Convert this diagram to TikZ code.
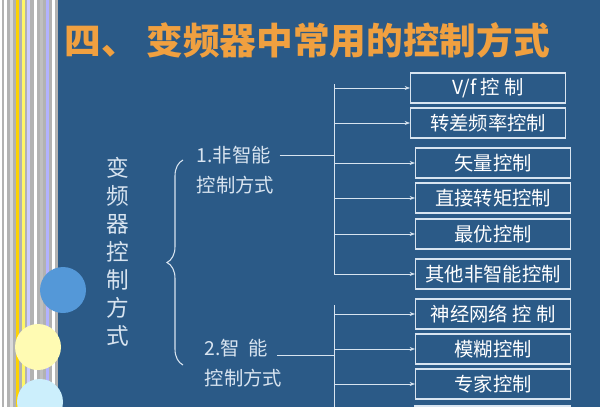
\documentclass[tikz,border=0pt]{standalone}
\usepackage{fontspec}
\newfontfamily\cjk{Noto Sans CJK SC}
\usetikzlibrary{arrows.meta}
\usetikzlibrary{decorations.pathreplacing}
\definecolor{slideblue}{HTML}{2B5A87}
\definecolor{titleorange}{HTML}{F0A040}
\definecolor{linegray}{HTML}{D8E4F0}
\tikzset{
    item/.style = {draw=linegray, thick, minimum width=155\px, minimum height=30\px, text=white, font=\cjk\fontsize{14.5}{16}\selectfont, inner sep=0pt},
    label/.style = {text=linegray, font=\cjk\fontsize{14.5}{16}\selectfont, anchor=west},
    feed/.style = {draw=linegray, -{Stealth[length=4pt]}},
}
\newlength{\px}\setlength{\px}{0.75pt}
\begin{document}
\begin{tikzpicture}[x=0.75pt, y=-0.75pt]
    \useasboundingbox (0,0) rectangle (600,407);
    \fill[slideblue] (0,0) rectangle (600,407);

    % left strip
    \fill[gray!60] (0,0) rectangle (58,407);
    \foreach \xa/\col in {4/white, 10/gray!30, 16/yellow!70!orange, 22/yellow!60, 27/blue!20, 34/white, 40/gray!50, 46/blue!30, 52/white}
        \fill[\col] (\xa,0) rectangle ++(3,407);
    \draw[white, thick] (1,0) -- (1,407);
    \fill[cyan!60!blue!70] (63,290) circle (23);
    \fill[yellow!30!white] (38,347) circle (23);
    \fill[cyan!20!white] (40,402) circle (23);

    % title
    \node[text=titleorange, font=\cjk\bfseries\fontsize{27.5}{30}\selectfont, anchor=west] (title) at (60,40) {四、\ 变频器中常用的控制方式};

    % root
    \node[text=linegray, font=\cjk\fontsize{17}{18}\selectfont, align=center] (root) at (118,252) {变\\[3pt]频\\[3pt]器\\[3pt]控\\[3pt]制\\[3pt]方\\[3pt]式};
    \draw[linegray, thick, decorate, decoration={brace, amplitude=12pt}] (183,365) -- (183,160);

    % branches
    \node[label] (ni) at (192,155) {1.非智能};
    \node[label] at (192,185) {控制方式};
    \node[label] (zn) at (200,348) {2.智\ \ 能};
    \node[label] at (200,378) {控制方式};

    \coordinate (t1) at (334,155);
    \coordinate (t2) at (334,355);
    \draw[linegray] (ni.east) ++(4,0) -- (t1);
    \draw[linegray] (zn.east) ++(4,7) -- (t2);
    \draw[linegray] (334,84) -- (334,274);
    \draw[linegray] (334,305) -- (334,407);

    % boxes
    \node[item] (b1) at (488,88) {V/f 控 制};
    \node[item] (b2) at (488,123) {转差频率控制};
    \node[item] (b3) at (493,163) {矢量控制};
    \node[item] (b4) at (493,198) {直接转矩控制};
    \node[item] (b5) at (493,234) {最优控制};
    \node[item] (b6) at (493,274) {其他非智能控制};
    \node[item] (b7) at (493,314) {神经网络 控 制};
    \node[item] (b8) at (493,349) {模糊控制};
    \node[item] (b9) at (493,384) {专家控制};
    \draw[linegray, thick] (415,420) -- (415,406) -- (570,406) -- (570,420);

    \foreach \b in {b1,b2,b3,b4,b5,b6,b7,b8,b9}
        \draw[feed] (334,0 |- \b.west) -- (\b.west);
\end{tikzpicture}
\end{document}
